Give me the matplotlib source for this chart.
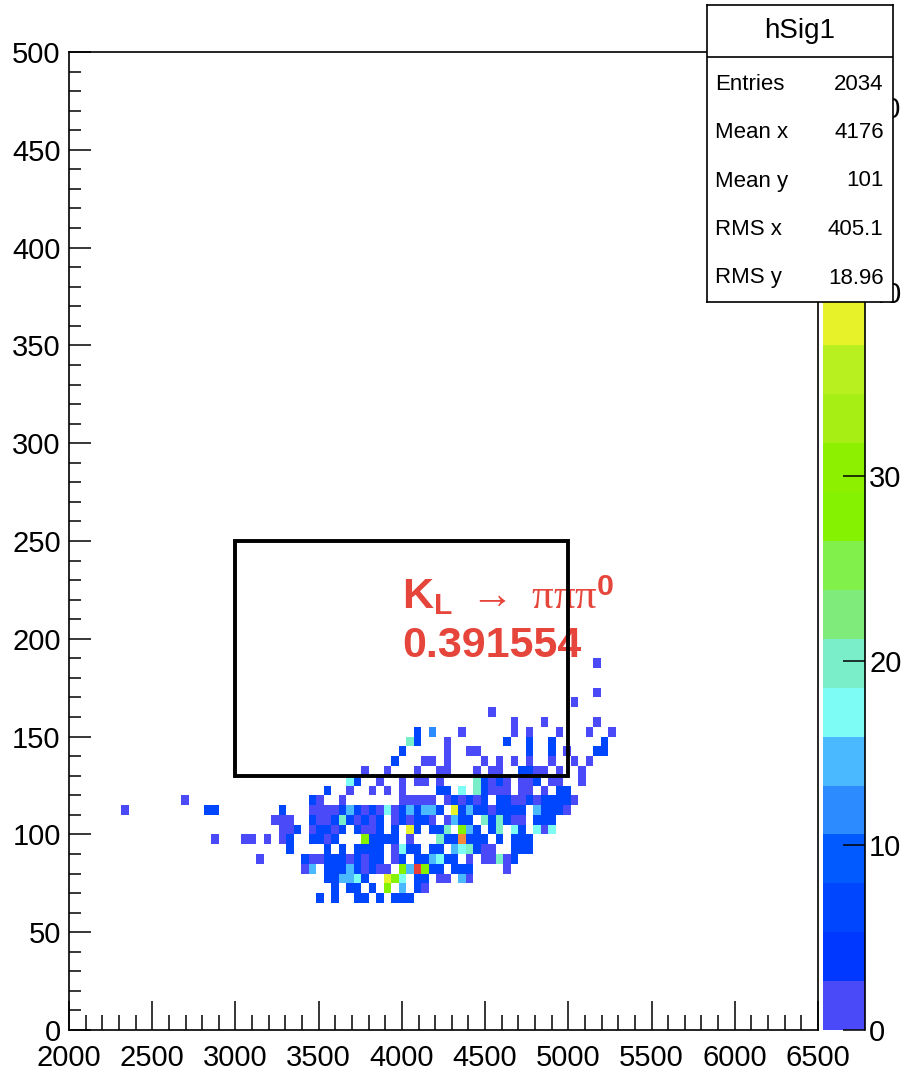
import numpy as np
import matplotlib.pyplot as plt
from matplotlib.colors import ListedColormap, BoundaryNorm
from matplotlib.patches import Rectangle
from matplotlib.ticker import MultipleLocator, NullLocator

plt.rcParams['font.family'] = ['Liberation Sans', 'DejaVu Sans']
plt.rcParams['mathtext.fontset'] = 'custom'
plt.rcParams['mathtext.bf'] = 'Liberation Sans:bold'
plt.rcParams['mathtext.rm'] = 'Liberation Serif'
plt.rcParams['mathtext.it'] = 'Liberation Serif'

# binning of hSig1 (100 x 100 bins)
x_range = (2000, 6500)
y_range = (0, 500)
n_bins = 100

# filled bins: y bin -> "x-bin + colour code" tokens
filled_bins = {
    37: "70p",
    34: "70p",
    33: "67p",
    32: "56p",
    31: "59p 63p 70p",
    30: "46b 48l 52p 59p 61p 65p 69p 72p",
    29: "45q 46b 50p 58b 61b 64b 71b",
    28: "44b 50p 53p 54p 61b 64b 66p 70b 71b",
    27: "43b 47p 48p 50p 55p 57p 59p 61p 64p 67p 69p",
    26: "39p 42p 46p 49p 50p 54p 56p 57p 60b 61b 62p 63p 65p 68p",
    25: "37c 38b 41p 44p 46p 47p 49p 54q 55b 56p 57b 58p 60p 61p 62b 64p 65p 68p",
    24: "34b 37p 40p 42p 44p 49b 50b 52c 54q 55b 56p 57p 58p 60p 61p 63p 65b 66b",
    23: "15p 32b 33p 36p 44p 45p 46p 47p 48p 50p 51b 52p 53b 54p 55b 57b 58b "
        "59p 60p 61b 62p 63b 64b 65b 66b 67p",
    22: "7p 18b 19b 28b 32p 33p 34p 35p 36b 37s 38b 39p 40b 41p 42c 43p 44b 45s "
        "46b 47s 48s 49b 51y 52b 53s 54b 55b 56p 57b 58b 59b 60b 62s 63b 64b 65b 66p",
    21: "27p 28p 29p 32b 33p 34p 35b 36q 37b 38p 39b 40p 41b 43p 44b 45p 46b 47b "
        "48p 50p 51s 52b 53b 55q 56b 57q 58b 59p 60p 62b 63b 64b",
    20: "28p 29p 30b 32p 33b 34b 35p 36b 38b 39p 40p 41b 43b 45y 46b 48b 49b 50q "
        "52G 53s 54b 56b 57q 59c 60b 62c 63p 64c",
    19: "19p 23p 24p 26p 28p 29b 32b 33b 34p 35b 39G 40b 41b 42b 43b 45p 49q 50b "
        "51b 52o 53b 54b 55b 57b 59b 60b 61b",
    18: "29b 34b 36b 38b 39b 40b 41b 43p 44c 45b 46b 48b 49b 51s 52c 53q 54b 55p "
        "56p 59b 60b 61b",
    17: "25p 31b 32p 33p 34b 35b 36b 37p 38b 39p 40b 41b 43p 44b 46b 47b 48s 49c "
        "50b 51b 53p 55p 56p 57q 58p 59b",
    16: "31p 32s 34b 35b 36b 37s 38b 39p 40b 41p 42p 44G 45s 46r 47G 48b 49b 51b "
        "52b 53b 58p",
    15: "34b 35b 36s 37s 38c 39b 42y 43G 44c 46b 47b 49p 50p 52s 53p",
    14: "35b 37b 38b 40b 42G 44s 46b 47p",
    13: "33b 35b 38b 39b 41b 43b 44b 45b",
}
# estimated bin content for each colour code
code_counts = {
    'p': 2, 'b': 6, 'l': 12, 's': 14, 'c': 17, 'q': 20,
    'G': 29, 'y': 38, 'o': 46, 'r': 52,
}

z_max = 53
band_colors = [
    '#4a4af8', '#0038ff', '#0046ff', '#005aff', '#2c8cff',
    '#4bb9ff', '#7cfcf4', '#7aeec8', '#7eeb7a', '#82f04a',
    '#84f200', '#8cf000', '#a6ee14', '#b8ef1e', '#e8f228',
    '#f5d830', '#f8b030', '#f28a3a', '#ef6040', '#e8403a',
]

# statistics box
stats_title = 'hSig1'
stats_names = ['Entries', 'Mean x', 'Mean y', 'RMS x', 'RMS y']
stats_values = ['2034', '4176', '101', '405.1', '18.96']

# selection window and label
window_x = (3000, 5000)
window_y = (130, 250)
label_decay = r'$\mathbf{K}_\mathbf{L}\ \rightarrow\ \mathrm{πππ}^\mathbf{0}$'
label_value = '0.391554'
red = '#e5453a'

counts = np.zeros((n_bins, n_bins))
for j, tokens in filled_bins.items():
    for tok in tokens.split():
        counts[j, int(tok[:-1])] = code_counts[tok[-1]]

x_edges = np.linspace(x_range[0], x_range[1], n_bins + 1)
y_edges = np.linspace(y_range[0], y_range[1], n_bins + 1)

W, H = 902, 1074


def place(left, top, right, bottom):
    return [left / W, 1 - bottom / H, (right - left) / W, (bottom - top) / H]


fig = plt.figure(figsize=(W / 100, H / 100), dpi=100)
ax = fig.add_axes(place(69, 52, 818, 1030))

cmap = ListedColormap(band_colors)
norm = BoundaryNorm(np.linspace(0, z_max, len(band_colors) + 1), cmap.N)
mesh = ax.pcolormesh(x_edges, y_edges, np.ma.masked_equal(counts, 0),
                     cmap=cmap, norm=norm)

ax.add_patch(Rectangle((window_x[0], window_y[0]), window_x[1] - window_x[0],
                       window_y[1] - window_y[0], fill=False, lw=2.8,
                       edgecolor='black', zorder=5))
ax.text(4000, 215, label_decay, color=red, fontsize=31, ha='left', va='baseline')
ax.text(4000, 190.5, label_value, color=red, fontsize=31, fontweight='bold',
        ha='left', va='baseline')

ax.set_xlim(*x_range)
ax.set_ylim(*y_range)
ax.xaxis.set_major_locator(MultipleLocator(500))
ax.xaxis.set_minor_locator(MultipleLocator(100))
ax.yaxis.set_major_locator(MultipleLocator(50))
ax.yaxis.set_minor_locator(MultipleLocator(10))
ax.tick_params(axis='x', which='major', direction='in', length=21, width=1.1,
               labelsize=21, pad=10)
ax.tick_params(axis='x', which='minor', direction='in', length=11, width=1.1)
ax.tick_params(axis='y', which='major', direction='in', length=16, width=1.1,
               labelsize=21, pad=6)
ax.tick_params(axis='y', which='minor', direction='in', length=8.5, width=1.1)
for s in ax.spines.values():
    s.set_linewidth(1.2)

cax = fig.add_axes(place(823, 52, 865, 1030))
cbar = fig.colorbar(mesh, cax=cax, ticks=[0, 10, 20, 30, 40, 50])
cbar.outline.set_visible(False)
cax.yaxis.set_minor_locator(NullLocator())
cax.plot([1, 1], [0, 1], transform=cax.transAxes, color='black', lw=1.2,
         clip_on=False)
cax.tick_params(direction='in', length=16, width=1.1, labelsize=21, pad=3)

sax = fig.add_axes(place(707, 5, 893, 302), zorder=10)
sax.set_xticks([])
sax.set_yticks([])
sax.set_xlim(0, 1)
sax.set_ylim(0, 1)
for s in sax.spines.values():
    s.set_linewidth(1.2)
sep = (302 - 57) / 297
sax.axhline(sep, color='black', lw=1.2)
sax.text(0.5, (302 - 31) / 297, stats_title, ha='center', va='center', fontsize=20)
for k, (name, val) in enumerate(zip(stats_names, stats_values)):
    yy = (302 - (84 + 48.5 * k)) / 297
    sax.text(0.045, yy, name, ha='left', va='center', fontsize=16)
    sax.text(0.95, yy, val, ha='right', va='center', fontsize=16)

fig.savefig('out.png', dpi=100)
